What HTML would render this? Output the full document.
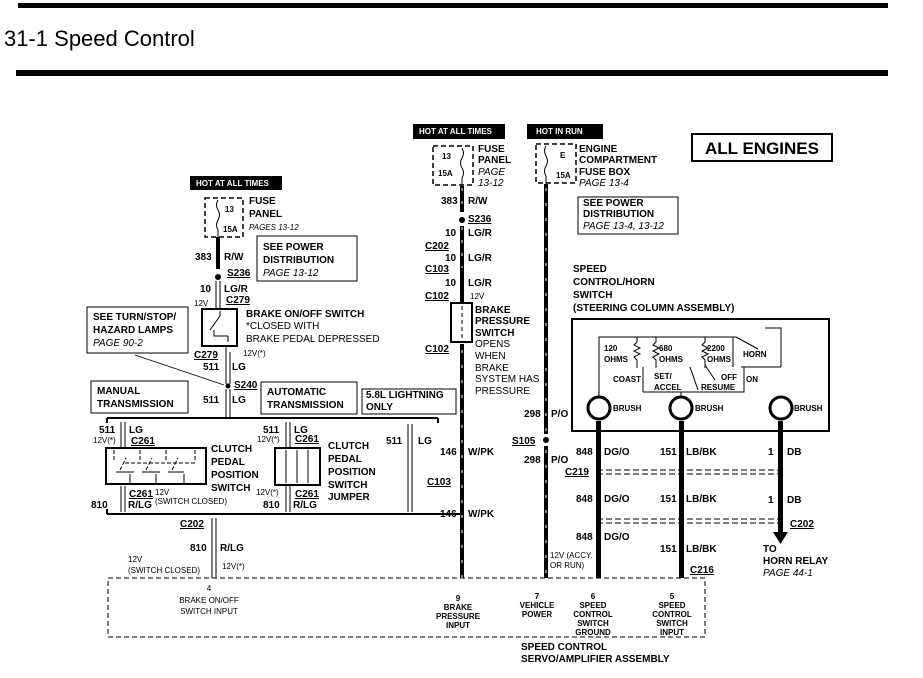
<!DOCTYPE html>
<html><head><meta charset="utf-8"><style>
html,body{margin:0;padding:0;background:#fff}
svg{display:block}
text{font-family:"Liberation Sans",Arial,sans-serif;font-weight:bold;font-size:10px;fill:#000}
.n{font-weight:normal}
.i{font-style:italic;font-weight:normal}
.s{font-size:8px}
.u{text-decoration:underline}
</style></head><body>
<svg width="923" height="678" viewBox="0 0 923 678" xmlns="http://www.w3.org/2000/svg">
<rect x="18" y="3" width="870" height="5" fill="#000"/>
<text x="4" y="46" class="n" style="font-size:22px">31-1 Speed Control</text>
<rect x="16" y="70" width="872" height="6" fill="#000"/>

<rect x="190" y="176" width="92" height="14" fill="#000"/>
<text x="196" y="186" class="s" style="fill:#fff">HOT AT ALL TIMES</text>
<rect x="413" y="124" width="92" height="15" fill="#000"/>
<text x="419" y="134" class="s" style="fill:#fff">HOT AT ALL TIMES</text>
<rect x="527" y="124" width="76" height="15" fill="#000"/>
<text x="536" y="134" class="s" style="fill:#fff">HOT  IN  RUN</text>

<g fill="none" stroke="#000">
<rect x="205" y="198" width="38" height="39" stroke-dasharray="5,3" stroke-width="1.5"/>
<rect x="433" y="146" width="40" height="39" stroke-dasharray="5,3" stroke-width="1.5"/>
<rect x="536" y="144" width="40" height="39" stroke-dasharray="5,3" stroke-width="1.5"/>
<path d="M218 200 q-3 5 0 10 q3 5 0 10 q-3 5 0 10 v8"/>
<path d="M462 148 q3 5 0 10 q-3 5 0 10 q3 5 0 10 v8"/>
<path d="M546 146 q-3 5 0 10 q3 5 0 10 q-3 5 0 10 v8"/>
<rect x="257" y="236" width="100" height="45"/>
<rect x="87" y="307" width="101" height="46"/>
<rect x="91" y="381" width="97" height="32"/>
<rect x="261" y="382" width="96" height="32"/>
<rect x="362" y="389" width="94" height="25"/>
<rect x="578" y="197" width="100" height="37"/>
<rect x="692" y="134" width="140" height="27" stroke-width="2"/>
<rect x="572" y="319" width="257" height="112" stroke-width="2"/>
<rect x="108" y="578" width="597" height="59" stroke-dasharray="5,3"/>
</g>

<rect x="216" y="237" width="4" height="32" fill="#000"/>
<circle cx="218" cy="277" r="3" fill="#000"/>
<g stroke="#000" fill="none">
<path d="M216 281v27M220 281v27"/>
<rect x="202" y="309" width="35" height="37" stroke-width="2"/>
<path d="M210 330l10-14M220 316v-5M214 330v6h14M228 336v6M226 346v6"/>
<path d="M226 352v32M230 352v32M226 389v28M230 389v28"/>
<path d="M135 355L224 385" stroke-width="0.8"/>
<path d="M107 418h331M107 418v5M438 418v5" stroke-width="2"/>
<path d="M107 514h355M107 514v-5" stroke-width="2"/>
<path d="M121 422v25M125 422v25"/>
<rect x="106" y="448" width="100" height="36" stroke-width="2"/>
<path d="M114 450v10M140 450v10M166 450v10M195 450v10M120 470l6-12M146 470l6-12M172 470l6-12M125 463h70" stroke-dasharray="4,2"/>
<path d="M116 472h18M142 472h18M168 472h16M130 474v10M156 474v10M184 474v10"/>
<path d="M121 486v26M125 486v26"/>
<path d="M286 422v25M290 422v25"/>
<rect x="275" y="448" width="45" height="37" stroke-width="2"/>
<path d="M286 450v33M297 450v33M308 450v33"/>
<path d="M286 486v26M290 486v26"/>
<path d="M408 424v88M412 424v88"/>
<path d="M212 518v60M216 518v60"/>
</g>
<circle cx="228" cy="386" r="2.5" fill="#000"/>

<rect x="460" y="186" width="4" height="26" fill="#000"/>
<circle cx="462" cy="220" r="3" fill="#000"/>
<rect x="460" y="226" width="4" height="76" fill="#000"/>
<rect x="451" y="303" width="21" height="39" fill="none" stroke="#000" stroke-width="2"/>
<path d="M462 306v33" stroke="#000" stroke-dasharray="4,3"/>
<rect x="460" y="344" width="4" height="234" fill="#000"/>
<path d="M462 350v228" stroke="#fff" stroke-dasharray="3,12"/>
<path d="M462 188v80" stroke="#fff" stroke-dasharray="3,10"/>
<rect x="544" y="184" width="4" height="250" fill="#000"/>
<circle cx="546" cy="440" r="3" fill="#000"/>
<rect x="544" y="446" width="4" height="132" fill="#000"/>
<path d="M546 188v246M546 450v125" stroke="#fff" stroke-dasharray="3,12"/>
<g stroke="#000" fill="none">
<path d="M599 397v-60h137M736 337l22 12M765 328h16v39M741 367h40"/>
<path d="M637 337v5l-3 3 6 3-6 3 6 3-6 3 3 3v8M656 337v5l-3 3 6 3-6 3 6 3-6 3 3 3v8M705 337v5l-3 3 6 3-6 3 6 3-6 3 3 3v8M733 337v30"/>
<path d="M643 392v-25M643 392h101v-25M681 397v-5M690 367l8 23M715 380l-10 -15"/>
<circle cx="599" cy="408" r="11" stroke-width="3"/>
<circle cx="681" cy="408" r="11" stroke-width="3"/>
<circle cx="781" cy="408" r="11" stroke-width="3"/>
<path d="M597 470h188M597 474h188M597 519h188M597 523h188" stroke-dasharray="6,3"/>
</g>
<rect x="596" y="421" width="5" height="157" fill="#000"/>
<rect x="679" y="421" width="5" height="157" fill="#000"/>
<rect x="778" y="421" width="5" height="112" fill="#000"/>
<path d="M773 532h15l-7.5 12z" fill="#000"/>

<text x="249" y="204">FUSE</text><text x="249" y="217">PANEL</text><text x="249" y="230" class="i s">PAGES 13-12</text>
<text x="225" y="212" class="s">13</text><text x="223" y="232" class="s">15A</text>
<text x="195" y="260">383</text><text x="224" y="260">R/W</text>
<text x="227" y="276" class="u">S236</text>
<text x="200" y="292">10</text><text x="224" y="292">LG/R</text>
<text x="194" y="306" class="n s">12V</text><text x="226" y="303" class="u">C279</text>
<text x="263" y="250">SEE  POWER</text><text x="263" y="263">DISTRIBUTION</text><text x="263" y="276" class="i">PAGE  13-12</text>
<text x="246" y="317">BRAKE  ON/OFF  SWITCH</text><text x="246" y="329" class="n">*CLOSED  WITH</text><text x="246" y="342" class="n">BRAKE  PEDAL  DEPRESSED</text>
<text x="93" y="320">SEE  TURN/STOP/</text><text x="93" y="333">HAZARD  LAMPS</text><text x="93" y="346" class="i">PAGE  90-2</text>
<text x="194" y="358" class="u">C279</text><text x="243" y="356" class="n s">12V(*)</text>
<text x="203" y="370">511</text><text x="232" y="370">LG</text>
<text x="234" y="388" class="u">S240</text>
<text x="203" y="403">511</text><text x="232" y="403">LG</text>
<text x="97" y="394">MANUAL</text><text x="97" y="407">TRANSMISSION</text>
<text x="267" y="395">AUTOMATIC</text><text x="267" y="408">TRANSMISSION</text>
<text x="366" y="398">5.8L  LIGHTNING</text><text x="366" y="410">ONLY</text>
<text x="99" y="433">511</text><text x="129" y="433">LG</text>
<text x="93" y="443" class="n s">12V(*)</text><text x="131" y="444" class="u">C261</text>
<text x="211" y="452">CLUTCH</text><text x="211" y="465">PEDAL</text><text x="211" y="478">POSITION</text><text x="211" y="491">SWITCH</text>
<text x="129" y="497" class="u">C261</text><text x="155" y="495" class="n s">12V</text><text x="155" y="504" class="n s">(SWITCH  CLOSED)</text>
<text x="91" y="508">810</text><text x="128" y="508">R/LG</text>
<text x="263" y="433">511</text><text x="294" y="433">LG</text>
<text x="257" y="442" class="n s">12V(*)</text><text x="295" y="442" class="u">C261</text>
<text x="328" y="449">CLUTCH</text><text x="328" y="462">PEDAL</text><text x="328" y="475">POSITION</text><text x="328" y="488">SWITCH</text><text x="328" y="500">JUMPER</text>
<text x="256" y="495" class="n s">12V(*)</text><text x="295" y="497" class="u">C261</text>
<text x="263" y="508">810</text><text x="293" y="508">R/LG</text>
<text x="386" y="444">511</text><text x="418" y="444">LG</text>
<text x="180" y="527" class="u">C202</text>
<text x="190" y="551">810</text><text x="220" y="551">R/LG</text>
<text x="128" y="562" class="n s">12V</text><text x="128" y="573" class="n s">(SWITCH  CLOSED)</text><text x="222" y="569" class="n s">12V(*)</text>

<text x="442" y="159" class="s">13</text><text x="438" y="176" class="s">15A</text>
<text x="478" y="152">FUSE</text><text x="478" y="163">PANEL</text><text x="478" y="175" class="i">PAGE</text><text x="478" y="186" class="i">13-12</text>
<text x="441" y="204">383</text><text x="468" y="204">R/W</text>
<text x="468" y="222" class="u">S236</text>
<text x="445" y="236">10</text><text x="468" y="236">LG/R</text>
<text x="425" y="249" class="u">C202</text>
<text x="445" y="261">10</text><text x="468" y="261">LG/R</text>
<text x="425" y="272" class="u">C103</text>
<text x="445" y="286">10</text><text x="468" y="286">LG/R</text>
<text x="425" y="299" class="u">C102</text><text x="470" y="299" class="n s">12V</text>
<text x="475" y="313">BRAKE</text><text x="475" y="324">PRESSURE</text><text x="475" y="336">SWITCH</text>
<text x="475" y="347" class="n">OPENS</text><text x="475" y="359" class="n">WHEN</text><text x="475" y="371" class="n">BRAKE</text><text x="475" y="382" class="n">SYSTEM HAS</text><text x="475" y="394" class="n">PRESSURE</text>
<text x="425" y="352" class="u">C102</text>
<text x="440" y="455">146</text><text x="468" y="455">W/PK</text>
<text x="427" y="485" class="u">C103</text>
<text x="440" y="517">146</text><text x="468" y="517">W/PK</text>

<text x="560" y="158" class="s">E</text><text x="556" y="178" class="s">15A</text>
<text x="579" y="152">ENGINE</text><text x="579" y="163">COMPARTMENT</text><text x="579" y="175">FUSE  BOX</text><text x="579" y="186" class="i">PAGE  13-4</text>
<text x="583" y="206">SEE  POWER</text><text x="583" y="217">DISTRIBUTION</text><text x="583" y="229" class="i">PAGE  13-4,  13-12</text>
<text x="705" y="154" style="font-size:17px">ALL  ENGINES</text>
<text x="573" y="272">SPEED</text><text x="573" y="285">CONTROL/HORN</text><text x="573" y="298">SWITCH</text><text x="573" y="311">(STEERING  COLUMN  ASSEMBLY)</text>
<text x="604" y="351" class="s">120</text><text x="604" y="362" class="s">OHMS</text>
<text x="659" y="351" class="s">680</text><text x="659" y="362" class="s">OHMS</text>
<text x="707" y="351" class="s">2200</text><text x="707" y="362" class="s">OHMS</text>
<text x="743" y="357" class="s">HORN</text>
<text x="613" y="382" class="s">COAST</text><text x="654" y="379" class="s">SET/</text><text x="654" y="390" class="s">ACCEL</text>
<text x="721" y="380" class="s">OFF</text><text x="746" y="382" class="s">ON</text><text x="701" y="390" class="s">RESUME</text>
<text x="613" y="411" class="s">BRUSH</text><text x="695" y="411" class="s">BRUSH</text><text x="794" y="411" class="s">BRUSH</text>
<text x="524" y="417">298</text><text x="551" y="417">P/O</text>
<text x="512" y="444" class="u">S105</text>
<text x="524" y="463">298</text><text x="551" y="463">P/O</text>
<text x="576" y="455">848</text><text x="604" y="455">DG/O</text>
<text x="660" y="455">151</text><text x="686" y="455">LB/BK</text>
<text x="768" y="455">1</text><text x="787" y="455">DB</text>
<text x="565" y="475" class="u">C219</text>
<text x="576" y="502">848</text><text x="604" y="502">DG/O</text>
<text x="660" y="502">151</text><text x="686" y="502">LB/BK</text>
<text x="768" y="503">1</text><text x="787" y="503">DB</text>
<text x="790" y="527" class="u">C202</text>
<text x="576" y="540">848</text><text x="604" y="540">DG/O</text>
<text x="660" y="552">151</text><text x="686" y="552">LB/BK</text>
<text x="763" y="552">TO</text><text x="763" y="564">HORN  RELAY</text><text x="763" y="576" class="i">PAGE  44-1</text>
<text x="690" y="573" class="u">C216</text>
<text x="550" y="558" class="n s">12V (ACCY.</text><text x="550" y="568" class="n s">OR RUN)</text>

<g text-anchor="middle">
<text x="209" y="591" class="n s">4</text><text x="209" y="603" class="n s">BRAKE ON/OFF</text><text x="209" y="614" class="n s">SWITCH  INPUT</text>
<text x="458" y="601" class="s">9</text><text x="458" y="610" class="s">BRAKE</text><text x="458" y="619" class="s">PRESSURE</text><text x="458" y="628" class="s">INPUT</text>
<text x="537" y="599" class="s">7</text><text x="537" y="608" class="s">VEHICLE</text><text x="537" y="617" class="s">POWER</text>
<text x="593" y="599" class="s">6</text><text x="593" y="608" class="s">SPEED</text><text x="593" y="617" class="s">CONTROL</text><text x="593" y="626" class="s">SWITCH</text><text x="593" y="635" class="s">GROUND</text>
<text x="672" y="599" class="s">5</text><text x="672" y="608" class="s">SPEED</text><text x="672" y="617" class="s">CONTROL</text><text x="672" y="626" class="s">SWITCH</text><text x="672" y="635" class="s">INPUT</text>
</g>
<text x="521" y="650">SPEED   CONTROL</text><text x="521" y="662">SERVO/AMPLIFIER   ASSEMBLY</text>
</svg>
</body></html>
